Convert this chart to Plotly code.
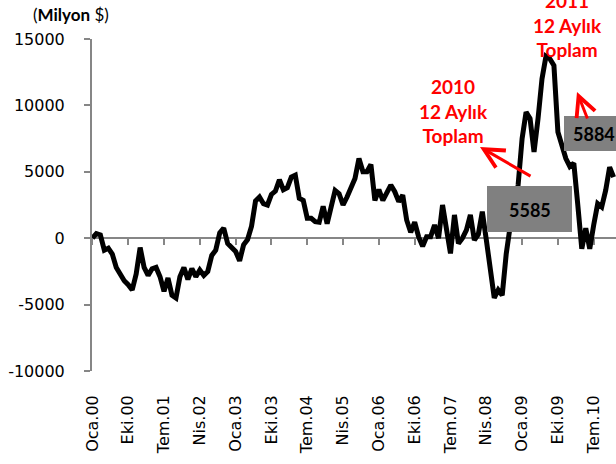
import plotly.graph_objects as go

# aylik deger (Milyon $), Oca.00'dan itibaren
values = [
    0, 350, 250, -900, -750, -1200, -2200, -2800, -3200, -3500,
    -3900, -2700, -700, -2200, -2800, -2300, -2200, -2900, -4000, -3000,
    -4300, -4500, -2900, -2200, -3100, -2300, -2900, -2400, -2800, -2500,
    -1300, -900, 400, 750, -400, -700, -1000, -1700, -500, -100,
    900, 2800, 3100, 2600, 2500, 3300, 3550, 4400, 3650, 3800,
    4600, 4750, 3000, 2850, 1500, 1500, 1250, 1200, 2400, 1100,
    2300, 3600, 3350, 2500, 3100, 3700, 4500, 6000, 5000, 5000,
    5550, 2850, 3650, 2850, 3400, 4000, 3500, 2750, 3250, 1350,
    450, 1200, 100, -600, 100, 100, 1000, 0, 2500, 350,
    -1150, 1750, -400, 0, 600, 1750, -150, 300, 2000, -100,
    -2400, -4500, -3900, -4300, -1200, 900, 1900, 4000, 7500, 9500,
    9000, 6500, 9000, 12000, 13700, 13500, 13000, 8000, 7000, 6000,
    5400, 5650, 2500, -800, 750, -800, 1000, 2600, 2350, 3600,
    5350, 4600,
]
months = list(range(len(values)))

tick_labels = ["Oca.00", "Eki.00", "Tem.01", "Nis.02", "Oca.03", "Eki.03", "Tem.04",
               "Nis.05", "Oca.06", "Eki.06", "Tem.07", "Nis.08", "Oca.09", "Eki.09", "Tem.10"]
tick_pos = [i * 9 for i in range(len(tick_labels))]

y_ticks = [-10000, -5000, 0, 5000, 10000, 15000]
y_tick_text = ["-10000", "-5000", "0", "5000", "10000", "15000"]

box_labels = ["5585", "5884"]
note_2010 = "2010<br>12 Aylık<br>Toplam"
note_2011 = "2011<br>12 Aylık<br>Toplam"

W, H = 616, 464
L, R, T, B = 92, 0, 39, 93
pw, ph = W - L - R, H - T - B


def px(x):
    return (x - L) / pw


def py(y):
    return (H - B - y) / ph


axis_grey = "#868686"
tick_font = dict(family="DejaVu Sans", size=16, color="black")

fig = go.Figure()
fig.add_trace(go.Scatter(x=months, y=values, mode="lines",
                         line=dict(color="black", width=5),
                         hoverinfo="skip", showlegend=False))
# bos iz: sifir cizgisindeki eksen icin
fig.add_trace(go.Scatter(x=[], y=[], xaxis="x2", showlegend=False, hoverinfo="skip"))

shapes = [
    dict(type="rect", xref="paper", yref="paper", x0=px(487), x1=px(572), y0=py(232), y1=py(186),
         fillcolor="#808080", line=dict(width=0), layer="above"),
    dict(type="rect", xref="paper", yref="paper", x0=px(564), x1=px(620), y0=py(151), y1=py(116),
         fillcolor="#808080", line=dict(width=0), layer="above"),
]

red = "#FF0000"
annotations = [
    dict(text="(<b>Milyon</b> $)", xref="paper", yref="paper", x=px(31), y=py(15),
         xanchor="left", yanchor="middle", showarrow=False,
         font=dict(family="Lato", size=17, color="black")),
    dict(text=f"<b>{box_labels[0]}</b>", xref="paper", yref="paper", x=px(530), y=py(210),
         xanchor="center", yanchor="middle",
         showarrow=False, font=dict(family="Lato", size=18, color="black")),
    dict(text=f"<b>{box_labels[1]}</b>", xref="paper", yref="paper", x=px(594), y=py(134),
         xanchor="center", yanchor="middle",
         showarrow=False, font=dict(family="Lato", size=18, color="black")),
    dict(text=f"<b>{note_2010}</b>", xref="paper", yref="paper", x=px(453), y=py(111),
         xanchor="center", yanchor="middle",
         showarrow=False, align="center", font=dict(family="Lato", size=19, color=red)),
    dict(text=f"<b>{note_2011}</b>", xref="paper", yref="paper", x=px(567), y=py(25),
         xanchor="center", yanchor="middle",
         showarrow=False, align="center", font=dict(family="Lato", size=19, color=red)),
    dict(text="", xref="paper", yref="paper", x=px(480), y=py(147), ax=52, ay=30,
         showarrow=True, arrowhead=5, arrowwidth=3, arrowsize=1.3, arrowcolor=red),
    dict(text="", xref="paper", yref="paper", x=px(577), y=py(92), ax=11, ay=28,
         showarrow=True, arrowhead=5, arrowwidth=3, arrowsize=1.3, arrowcolor=red),
]

fig.update_layout(
    width=W, height=H,
    margin=dict(l=L, r=R, t=T, b=B, pad=0, autoexpand=False),
    paper_bgcolor="white", plot_bgcolor="white",
    font=dict(family="DejaVu Sans", size=16, color="black"),
    xaxis=dict(range=[-0.1, 131.6], tickvals=tick_pos, ticktext=tick_labels,
               tickangle=-90, showgrid=False, zeroline=False, showline=False,
               ticks="", ticklabelstandoff=20, tickfont=tick_font, automargin=False),
    xaxis2=dict(overlaying="x", matches="x", anchor="free", position=0.4,
                tickvals=tick_pos, showticklabels=False, showgrid=False, zeroline=False,
                showline=True, linecolor=axis_grey, linewidth=2,
                ticks="outside", ticklen=6, tickwidth=2, tickcolor=axis_grey,
                layer="below traces", automargin=False),
    yaxis=dict(range=[-10000, 15000], tickvals=y_ticks, ticktext=y_tick_text,
               showgrid=False, zeroline=False, showline=True, linecolor=axis_grey,
               linewidth=2, ticks="outside", ticklen=6, tickwidth=2, tickcolor=axis_grey,
               ticklabelstandoff=16, tickfont=tick_font, automargin=False),
    shapes=shapes,
    annotations=annotations,
)

# sayfa kenar boslugunu kaldir
fig.write_html("out.html", config={"displayModeBar": False},
               post_script="document.body.style.margin='0';")
